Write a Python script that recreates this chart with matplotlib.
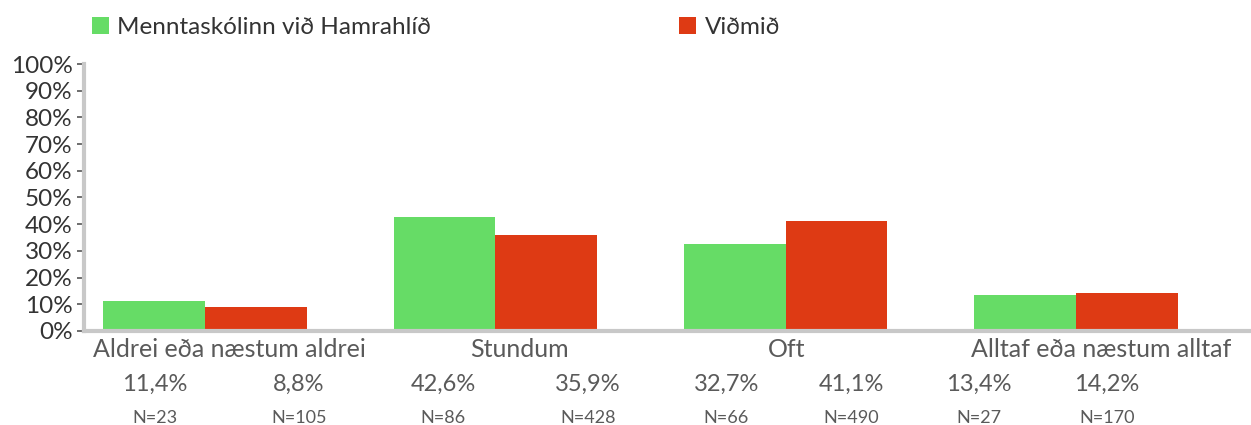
import matplotlib.pyplot as plt
import numpy as np

categories = ['Aldrei eða næstum aldrei', 'Stundum', 'Oft', 'Alltaf eða næstum alltaf']
school = [11.4, 42.6, 32.7, 13.4]
school_n = [23, 86, 66, 27]
reference = [8.8, 35.9, 41.1, 14.2]
reference_n = [105, 428, 490, 170]
series_names = ['Menntaskólinn við Hamrahlíð', 'Viðmið']

green = '#66dc66'
red = '#de3a14'
grey_txt = '#5a5a5a'

plt.rcParams['font.family'] = ['Lato', 'DejaVu Sans']

fig = plt.figure(figsize=(12.51, 4.25), dpi=100)
ax = fig.add_axes([0.0671, 0.2212, 0.9329, 0.6282])

x = np.arange(len(categories))
w = 0.35
ax.bar(x - w / 2, school, w, color=green, label=series_names[0])
ax.bar(x + w / 2, reference, w, color=red, label=series_names[1])

ax.set_xlim(-0.417, 3.603)
ax.set_ylim(0, 100)
ax.set_yticks(range(0, 101, 10))
ax.set_yticklabels([f'{v}%' for v in range(0, 101, 10)])
ax.tick_params(axis='y', length=5, width=1.2, color='#555555', labelsize=17.5,
               labelcolor='#333333', pad=3)
ax.set_xticks([])
for side in ['top', 'right']:
    ax.spines[side].set_visible(False)
for side in ['left', 'bottom']:
    ax.spines[side].set_color('#c8c8c8')
    ax.spines[side].set_linewidth(3)

# the text rows below the axis sit in their own table-like grid, not under the bars
cat_pos = [0.083, 1.082, 2.005, 3.087]
school_pos = [-0.172, 0.820, 1.795, 2.666]
ref_pos = [0.324, 1.319, 2.225, 3.107]
trans = ax.get_xaxis_transform()
for i, cat in enumerate(categories):
    ax.text(cat_pos[i], -0.07, cat, transform=trans, ha='center', va='center',
            fontsize=18, color=grey_txt)
    for pos, vals, ns in [(school_pos, school, school_n), (ref_pos, reference, reference_n)]:
        ax.text(pos[i], -0.20, f'{vals[i]:.1f}%'.replace('.', ','), transform=trans,
                ha='center', va='center', fontsize=17, color=grey_txt)
        ax.text(pos[i], -0.325, f'N={ns[i]}', transform=trans,
                ha='center', va='center', fontsize=13, color=grey_txt)

fig.legend(loc='center left', bbox_to_anchor=(0.056, 0.935), ncol=2, frameon=False,
           fontsize=17.5, handlelength=0.7, handleheight=0.7, handletextpad=0.35,
           columnspacing=10.2, labelcolor='#333333')

fig.savefig('out.png', dpi=100)
